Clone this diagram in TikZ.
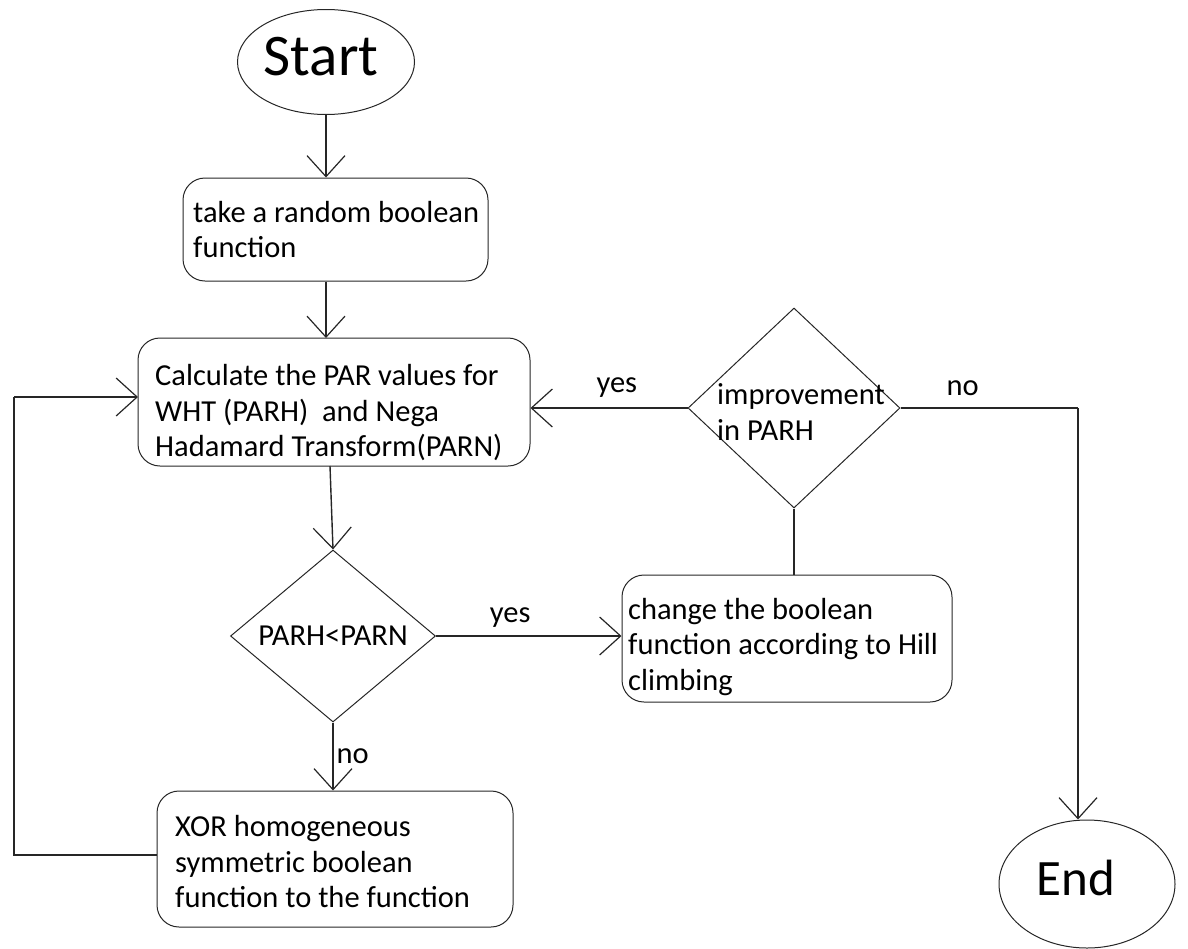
\documentclass[tikz,border=0pt]{standalone}
\usepackage{fontspec}
\setmainfont{Carlito}
\usetikzlibrary{shapes.geometric,arrows.meta}
\begin{document}
\begin{tikzpicture}[x=1pt,y=-1pt,
  shape line/.style={draw=black!85,line width=1pt},
  roundbox/.style={shape line,rectangle,rounded corners=22pt,inner sep=0pt},
  term/.style={shape line,ellipse,inner sep=0pt},
  decision/.style={shape line,diamond,inner sep=0pt},
  txt/.style={font=\fontsize{30.5}{35.5}\selectfont,align=left,inner sep=0pt,anchor=west},
  lbl/.style={font=\fontsize{30.5}{35.5}\selectfont,inner sep=0pt},
  conn/.style={draw=black!85,line width=1.4pt},
  flow/.style={conn,-{Straight Barb[length=21pt,width=38pt,line width=1.2pt]}}
]
\useasboundingbox (0,0) rectangle (1188,948);
% terminals
\node[term,minimum width=177pt,minimum height=105pt] (start) at (326,62) {};
\node[font=\fontsize{59}{64}\selectfont,inner sep=0pt] (starttxt) at (321,57) {Start};
\node[term,minimum width=176pt,minimum height=128pt] (end) at (1087,884) {};
\node[font=\fontsize{51}{56}\selectfont,inner sep=0pt] (endtxt) at (1076,878) {End};
% process boxes
\node[roundbox,minimum width=305pt,minimum height=103pt] (b1) at (335.5,229.5) {};
\node[txt] (t1) at (193,229.5) {take a random boolean\\function};
\node[roundbox,minimum width=392pt,minimum height=128pt] (b2) at (334,402) {};
\node[txt] (t2) at (155,413) {Calculate the PAR values for\\WHT (PARH)\ \ and Nega\\Hadamard Transform(PARN)};
\node[roundbox,minimum width=330pt,minimum height=127pt] (b3) at (787,638.5) {};
\node[txt] (t3) at (628,647) {change the boolean\\function according to Hill\\climbing};
\node[roundbox,minimum width=356pt,minimum height=136pt] (b4) at (335,859) {};
\node[txt] (t4) at (175,862) {XOR homogeneous\\symmetric boolean\\function to the function};
% decisions
\node[decision,minimum width=205pt,minimum height=172pt] (d1) at (333,636) {};
\node[lbl] (t5) at (333,636) {PARH<PARN};
\node[decision,minimum width=212pt,minimum height=200pt] (d2) at (794,408) {};
\node[txt] (t6) at (717,412) {improvement\\in PARH};
% coordinates
\coordinate (c1) at (1078,408);
\coordinate (c2) at (14,855);
\coordinate (c3) at (14,397);
\coordinate (c4) at (138,397);
% connectors
\draw[flow] (start.south) -- (start.south |- b1.north);
\draw[flow] (b1.south -| 326,0) -- (326,338);
\draw[flow] (330,466) -- (d1.north);
\draw[flow] (d1.east) -- node[lbl,above=8pt,pos=0.4] (yes1) {yes} (b3.west |- d1.east);
\draw[conn] (b3.north -| d2.south) -- (d2.south);
\draw[flow] (d2.west) -- node[lbl,above=10pt,pos=0.45] (yes2) {yes} (b2.east |- d2.west);
\draw[conn] (d2.east) -- node[lbl,above=12pt,pos=0.35] (no1) {no} (c1);
\draw[flow] (c1) -- (c1 |- end.north);
\draw[flow] (d1.south) -- node[lbl,right=3pt,pos=0.5] (no2) {no} (d1.south |- b4.north);
\draw[conn] (b4.west |- c2) -- (c2) -- (c3);
\draw[flow] (c3) -- (c4);
\end{tikzpicture}
\end{document}
